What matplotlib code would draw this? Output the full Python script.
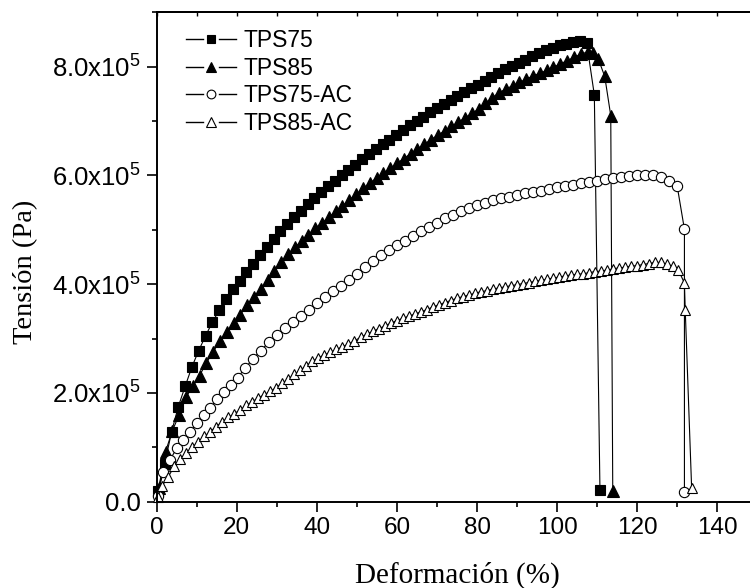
import matplotlib
matplotlib.use("Agg")
import matplotlib.pyplot as plt
from matplotlib.legend_handler import HandlerBase
from matplotlib.lines import Line2D
from matplotlib.ticker import MultipleLocator

plt.rcParams['mathtext.fontset'] = 'custom'
plt.rcParams['mathtext.rm'] = 'Liberation Sans'
plt.rcParams['mathtext.it'] = 'Liberation Sans'
plt.rcParams['mathtext.bf'] = 'Liberation Sans'

# ---- data: strain (%) and stress (x1e5 Pa) ----
tps75_x = [0.3, 2.0, 3.7, 5.4, 7.1, 8.8, 10.5, 12.2, 13.9, 15.6, 17.3, 19.0, 20.7, 22.4,
           24.1, 25.8, 27.5, 29.2, 30.9, 32.6, 34.3, 36.0, 37.7, 39.4, 41.1, 42.8, 44.5,
           46.2, 47.9, 49.6, 51.3, 53.0, 54.7, 56.4, 58.1, 59.8, 61.5, 63.2, 64.9, 66.6,
           68.3, 70.0, 71.7, 73.4, 75.1, 76.8, 78.5, 80.2, 81.9, 83.6, 85.3, 87.0, 88.7,
           90.4, 92.1, 93.8, 95.5, 97.2, 98.9, 100.6, 102.3, 104.0, 105.7, 107.4, 109.3, 110.7]
tps75_y = [0.20, 0.70, 1.28, 1.75, 2.12, 2.48, 2.78, 3.05, 3.30, 3.52, 3.72, 3.92, 4.06, 4.22,
           4.38, 4.53, 4.68, 4.83, 4.97, 5.10, 5.23, 5.35, 5.47, 5.58, 5.69, 5.80, 5.90,
           6.00, 6.10, 6.20, 6.30, 6.39, 6.48, 6.57, 6.66, 6.75, 6.84, 6.92, 7.00, 7.08,
           7.16, 7.24, 7.32, 7.39, 7.46, 7.53, 7.60, 7.67, 7.74, 7.81, 7.88, 7.95, 8.01,
           8.07, 8.13, 8.19, 8.25, 8.30, 8.35, 8.39, 8.42, 8.46, 8.47, 8.43, 7.48, 0.22]

tps85_x = [0.5, 2.2, 3.9, 5.6, 7.3, 9.0, 10.7, 12.4, 14.1, 15.8, 17.5, 19.2, 20.9, 22.6,
           24.3, 26.0, 27.7, 29.4, 31.1, 32.8, 34.5, 36.2, 37.9, 39.6, 41.3, 43.0, 44.7,
           46.4, 48.1, 49.8, 51.5, 53.2, 54.9, 56.6, 58.3, 60.0, 61.7, 63.4, 65.1, 66.8,
           68.5, 70.2, 71.9, 73.6, 75.3, 77.0, 78.7, 80.4, 82.1, 83.8, 85.5, 87.2, 88.9,
           90.6, 92.3, 94.0, 95.7, 97.4, 99.1, 100.8, 102.5, 104.2, 105.9, 107.6, 109.0,
           110.3, 111.9, 113.4, 113.9]
tps85_y = [0.25, 0.92, 1.30, 1.60, 1.92, 2.12, 2.32, 2.55, 2.76, 2.95, 3.12, 3.28, 3.44, 3.62,
           3.76, 3.91, 4.08, 4.24, 4.40, 4.55, 4.68, 4.79, 4.91, 5.03, 5.13, 5.23, 5.34,
           5.44, 5.55, 5.65, 5.76, 5.86, 5.95, 6.04, 6.13, 6.22, 6.31, 6.40, 6.49, 6.57,
           6.66, 6.74, 6.82, 6.90, 6.98, 7.06, 7.14, 7.22, 7.33, 7.43, 7.52, 7.59, 7.65,
           7.71, 7.77, 7.83, 7.88, 7.93, 7.99, 8.05, 8.11, 8.17, 8.23, 8.27, 8.26,
           8.14, 7.82, 7.10, 0.20]

tps75ac_x = [0.2, 1.6, 3.3, 5.0, 6.6, 8.3, 10.0, 11.7, 13.4, 15.1, 16.8, 18.5, 20.2, 22.0,
             24.0, 26.0, 28.0, 30.0, 32.0, 34.0, 36.0, 38.0, 40.0, 42.0, 44.0, 46.0, 48.0,
             50.0, 52.0, 54.0, 56.0, 58.0, 60.0, 62.0, 64.0, 66.0, 68.0, 70.0, 72.0, 74.0,
             76.0, 78.0, 80.0, 82.0, 84.0, 86.0, 88.0, 90.0, 92.0, 94.0, 96.0, 98.0, 100.0,
             102.0, 104.0, 106.0, 108.0, 110.0, 112.0, 114.0, 116.0, 118.0, 120.0, 122.0,
             124.0, 126.0, 128.0, 130.0, 131.8, 131.8]
tps75ac_y = [0.10, 0.55, 0.77, 0.98, 1.13, 1.29, 1.44, 1.60, 1.73, 1.88, 2.02, 2.15, 2.28, 2.45,
             2.62, 2.78, 2.93, 3.07, 3.19, 3.31, 3.42, 3.53, 3.65, 3.77, 3.87, 3.97, 4.07,
             4.19, 4.31, 4.43, 4.53, 4.63, 4.72, 4.80, 4.89, 4.97, 5.05, 5.13, 5.21, 5.28,
             5.34, 5.40, 5.45, 5.50, 5.54, 5.58, 5.61, 5.64, 5.67, 5.70, 5.72, 5.75, 5.78,
             5.81, 5.83, 5.86, 5.88, 5.90, 5.93, 5.95, 5.97, 5.99, 6.00, 6.01,
             6.01, 5.97, 5.90, 5.80, 5.01, 0.18]

tps85ac_x = [0.2, 1.25, 2.9, 4.4, 5.9, 7.4, 8.9, 10.4, 11.9, 13.4, 14.9, 16.4, 17.9, 19.4,
             20.9, 22.4, 23.9, 25.4, 26.9, 28.4, 29.9, 31.4, 32.9, 34.4, 35.9, 37.4, 38.9,
             40.4, 41.9, 43.4, 44.9, 46.4, 47.9, 49.4, 50.9, 52.4, 53.9, 55.4, 56.9, 58.4,
             59.9, 61.4, 62.9, 64.4, 65.9, 67.4, 68.9, 70.4, 71.9, 73.4, 74.9, 76.4, 77.9,
             79.4, 80.9, 82.4, 83.9, 85.4, 86.9, 88.4, 89.9, 91.4, 92.9, 94.4, 95.9, 97.4,
             98.9, 100.4, 101.9, 103.4, 104.9, 106.4, 107.9, 109.4, 110.9, 112.4, 113.9,
             115.4, 116.9, 118.4, 119.9, 121.4, 122.9, 124.4, 125.9, 127.4, 128.9, 130.3,
             131.8, 132.0, 133.6]
tps85ac_y = [0.08, 0.28, 0.46, 0.65, 0.78, 0.90, 1.00, 1.10, 1.20, 1.29, 1.38, 1.47, 1.55, 1.62,
             1.69, 1.77, 1.84, 1.91, 1.97, 2.03, 2.10, 2.18, 2.26, 2.34, 2.42, 2.50, 2.58,
             2.65, 2.70, 2.75, 2.80, 2.85, 2.90, 2.96, 3.02, 3.08, 3.13, 3.18, 3.23, 3.28,
             3.33, 3.37, 3.41, 3.45, 3.49, 3.53, 3.58, 3.62, 3.66, 3.70, 3.74, 3.77, 3.80,
             3.83, 3.86, 3.88, 3.91, 3.93, 3.95, 3.97, 3.99, 4.01, 4.03, 4.05, 4.07, 4.09,
             4.11, 4.13, 4.15, 4.17, 4.18, 4.19, 4.21, 4.23, 4.24, 4.26, 4.28,
             4.30, 4.31, 4.33, 4.34, 4.36, 4.38, 4.40, 4.40, 4.37, 4.33, 4.26,
             4.02, 3.53, 0.25]

series_names = ['TPS75', 'TPS85', 'TPS75-AC', 'TPS85-AC']
stress_scale = 1e5

xticks = [0, 20, 40, 60, 80, 100, 120, 140]
yticks = [0, 2e5, 4e5, 6e5, 8e5]
ytick_labels = ['0.0', '2.0x10$^{5}$', '4.0x10$^{5}$', '6.0x10$^{5}$', '8.0x10$^{5}$']


class GapLineHandler(HandlerBase):
    """Legend key drawn as line - marker - line with a gap round the marker."""

    def create_artists(self, legend, orig_handle, xdescent, ydescent,
                       width, height, fontsize, trans):
        y = height / 2.0 - ydescent
        x0 = -xdescent
        x1 = x0 + width
        xm = 0.5 * (x0 + x1)
        gap = 0.16 * width
        left = Line2D([x0, xm - gap], [y, y], color='black', lw=1.0)
        right = Line2D([xm + gap, x1], [y, y], color='black', lw=1.0)
        mk = Line2D([xm], [y], linestyle='none',
                    marker=orig_handle.get_marker(),
                    markersize=orig_handle.get_markersize() * 0.85,
                    markerfacecolor=orig_handle.get_markerfacecolor(),
                    markeredgecolor=orig_handle.get_markeredgecolor(),
                    markeredgewidth=orig_handle.get_markeredgewidth())
        for a in (left, right, mk):
            a.set_transform(trans)
        return [left, right, mk]


W, H = 750, 588
fig = plt.figure(figsize=(W / 100, H / 100), dpi=100)
ax_left = 156.7 / W
ax_bottom = (H - 501.7) / H
ax_top = (H - 12.3) / H
ax = fig.add_axes([ax_left, ax_bottom, 1.0 - ax_left, ax_top - ax_bottom])

styles = [
    dict(marker='s', markersize=7.0, markerfacecolor='black', markeredgecolor='black'),
    dict(marker='^', markersize=8.0, markerfacecolor='black', markeredgecolor='black'),
    dict(marker='o', markersize=7.4, markerfacecolor='white', markeredgecolor='black'),
    dict(marker='^', markersize=7.8, markerfacecolor='white', markeredgecolor='black'),
]
datasets = [(tps75_x, tps75_y), (tps85_x, tps85_y),
            (tps75ac_x, tps75ac_y), (tps85ac_x, tps85ac_y)]

handles = []
for (xs, ys), name, st in zip(datasets, series_names, styles):
    yv = [v * stress_scale for v in ys]
    h, = ax.plot(xs, yv, color='black', lw=0.8, markeredgewidth=0.8,
                 label=name, clip_on=False, **st)
    handles.append(h)

xmax = (W - 156.7) / 4.004
ax.set_xlim(0, xmax)
ax.set_ylim(0, 9.0e5)

ax.set_xticks(xticks)
ax.set_xticklabels([str(v) for v in xticks], fontfamily='Liberation Sans', fontsize=17.5)
ax.xaxis.set_minor_locator(MultipleLocator(10))
ax.set_yticks(yticks)
ax.set_yticklabels(ytick_labels, fontfamily='Liberation Sans', fontsize=18.5)
ax.yaxis.set_minor_locator(MultipleLocator(1e5))

ax.tick_params(axis='both', which='major', direction='out', length=7, width=1.2,
               colors='black', pad=4)
ax.tick_params(axis='both', which='minor', direction='out', length=3.5, width=1.2)
ax.tick_params(axis='y', which='major', pad=4.5)

for side in ('left', 'bottom', 'top'):
    ax.spines[side].set_linewidth(1.4)
ax.spines['right'].set_visible(False)

# small inward ticks along the top edge
top = ax.secondary_xaxis('top')
top.set_xticks(list(range(0, 150, 10)))
top.tick_params(direction='in', length=3, width=1.0, labeltop=False)
top.spines['top'].set_linewidth(1.4)

fig.text(457 / W, (H - 583) / H, 'Deformación (%)', ha='center', va='baseline',
         family='Liberation Serif', fontsize=21)
fig.text(26 / W, 1 - 272 / H, 'Tensión (Pa)', ha='center', va='center', rotation=90,
         family='Liberation Serif', fontsize=20.5)

leg = ax.legend(handles=handles, labels=series_names,
                handler_map={Line2D: GapLineHandler()},
                loc='upper left', bbox_to_anchor=(186 / W, 1 - 29 / H),
                bbox_transform=fig.transFigure, frameon=False,
                prop=dict(family='Liberation Sans', size=16.5),
                handlelength=2.2, handletextpad=0.3, labelspacing=0.2,
                borderpad=0, borderaxespad=0)

fig.savefig('out.png', dpi=100)
